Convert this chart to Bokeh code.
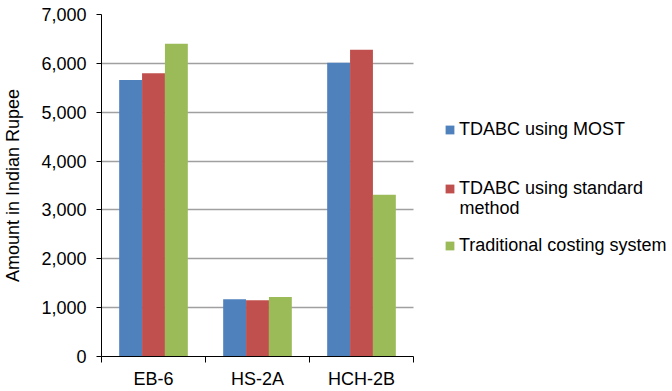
from bokeh.plotting import figure
from bokeh.models import (Range1d, LinearAxis, FixedTicker, Label,
                          NumeralTickFormatter, Legend, LegendItem, ColumnDataSource)
from bokeh.embed import file_html
from bokeh.resources import INLINE

categories = ["EB-6", "HS-2A", "HCH-2B"]
series_names = ["TDABC using MOST", "TDABC using standard", "Traditional costing system"]
series_name_continuation = "method"   # second line of the second legend entry
tdabc_most = [5660, 1170, 6010]
tdabc_standard = [5800, 1150, 6280]
traditional = [6400, 1220, 3310]
y_ticks = [0, 1000, 2000, 3000, 4000, 5000, 6000, 7000]
colors = ["#4F81BD", "#C0504D", "#9BBB59"]

FONT = "Liberation Sans"

W, H = 672, 391
FRAME_L, FRAME_R, FRAME_T, FRAME_B = 101, 413, 14, 356

n = len(categories)
centers = [i + 0.5 for i in range(n)]
edges = list(range(n + 1))
bar_w = 0.22
offsets = [-0.22, 0.0, 0.22]

# frame spans to the right edge so the legend can live inside it;
# the categories occupy [0, n] which maps onto FRAME_L..FRAME_R
x_end = n * (W - FRAME_L) / (FRAME_R - FRAME_L)

p = figure(width=W, height=H,
           x_range=Range1d(0, x_end), y_range=Range1d(0, 7000),
           output_backend="svg", toolbar_location=None,
           x_axis_location=None,
           min_border_left=FRAME_L, min_border_right=0, min_border_top=FRAME_T,
           min_border_bottom=H - FRAME_B)
p.outline_line_color = None
p.background_fill_color = "white"
p.border_fill_color = "white"

# y axis
ya = p.yaxis[0]
ya.ticker = FixedTicker(ticks=y_ticks)
ya.formatter = NumeralTickFormatter(format="0,0")
ya.axis_line_color = "black"
ya.major_tick_line_color = "black"
ya.major_tick_out = 5
ya.major_tick_in = 0
ya.minor_tick_line_color = None
ya.major_label_text_font = FONT
ya.major_label_text_font_size = "18px"
ya.major_label_text_color = "black"
ya.major_label_standoff = 10
ya.axis_label = "Amount in Indian Rupee"
ya.axis_label_text_font = FONT
ya.axis_label_text_font_size = "18px"
ya.axis_label_text_font_style = "normal"
ya.axis_label_text_color = "black"
ya.axis_label_standoff = 15

p.ygrid.ticker = FixedTicker(ticks=y_ticks)
p.ygrid.grid_line_color = "#a0a0a0"
p.ygrid.grid_line_width = 1.5
p.ygrid.cross_bounds = (0, n)
p.xgrid.visible = False

# x axis: category labels at group centres, tick marks (minor) at group boundaries
xa = LinearAxis(ticker=FixedTicker(ticks=centers, minor_ticks=edges),
                major_label_overrides={c: lab for c, lab in zip(centers, categories)},
                bounds=(0, n),
                axis_line_color="black", major_tick_line_color=None,
                major_tick_out=0, major_tick_in=0,
                minor_tick_line_color="black", minor_tick_out=6, minor_tick_in=0,
                major_label_text_font=FONT, major_label_text_font_size="18px",
                major_label_text_color="black", major_label_standoff=6)
p.add_layout(xa, "below")

renderers = []
for i, vals in enumerate([tdabc_most, tdabc_standard, traditional]):
    src = ColumnDataSource(dict(x=[c + offsets[i] for c in centers], top=vals))
    r = p.vbar(x="x", top="top", width=bar_w, source=src,
               fill_color=colors[i], line_color=None)
    renderers.append(r)

LEG_X = 444
legend_bottoms = [140, 199, 256]  # canvas y of bottom of each legend entry
for i in range(3):
    lg = Legend(items=[LegendItem(label=series_names[i], renderers=[renderers[i]])],
                location=(LEG_X - FRAME_L, FRAME_B - legend_bottoms[i]),
                border_line_color=None, background_fill_alpha=0,
                padding=0, margin=0, glyph_width=11, glyph_height=11,
                label_standoff=4, label_text_font=FONT, label_text_font_size="18px",
                label_text_color="black", spacing=0)
    p.add_layout(lg, "center")

p.add_layout(Label(x=459 - FRAME_L, y=FRAME_B - 207, x_units="screen", y_units="screen",
                   text=series_name_continuation, text_font=FONT, text_font_size="18px",
                   text_color="black", text_baseline="middle", text_align="left"))

open("out.html", "w").write(file_html(p, INLINE))
